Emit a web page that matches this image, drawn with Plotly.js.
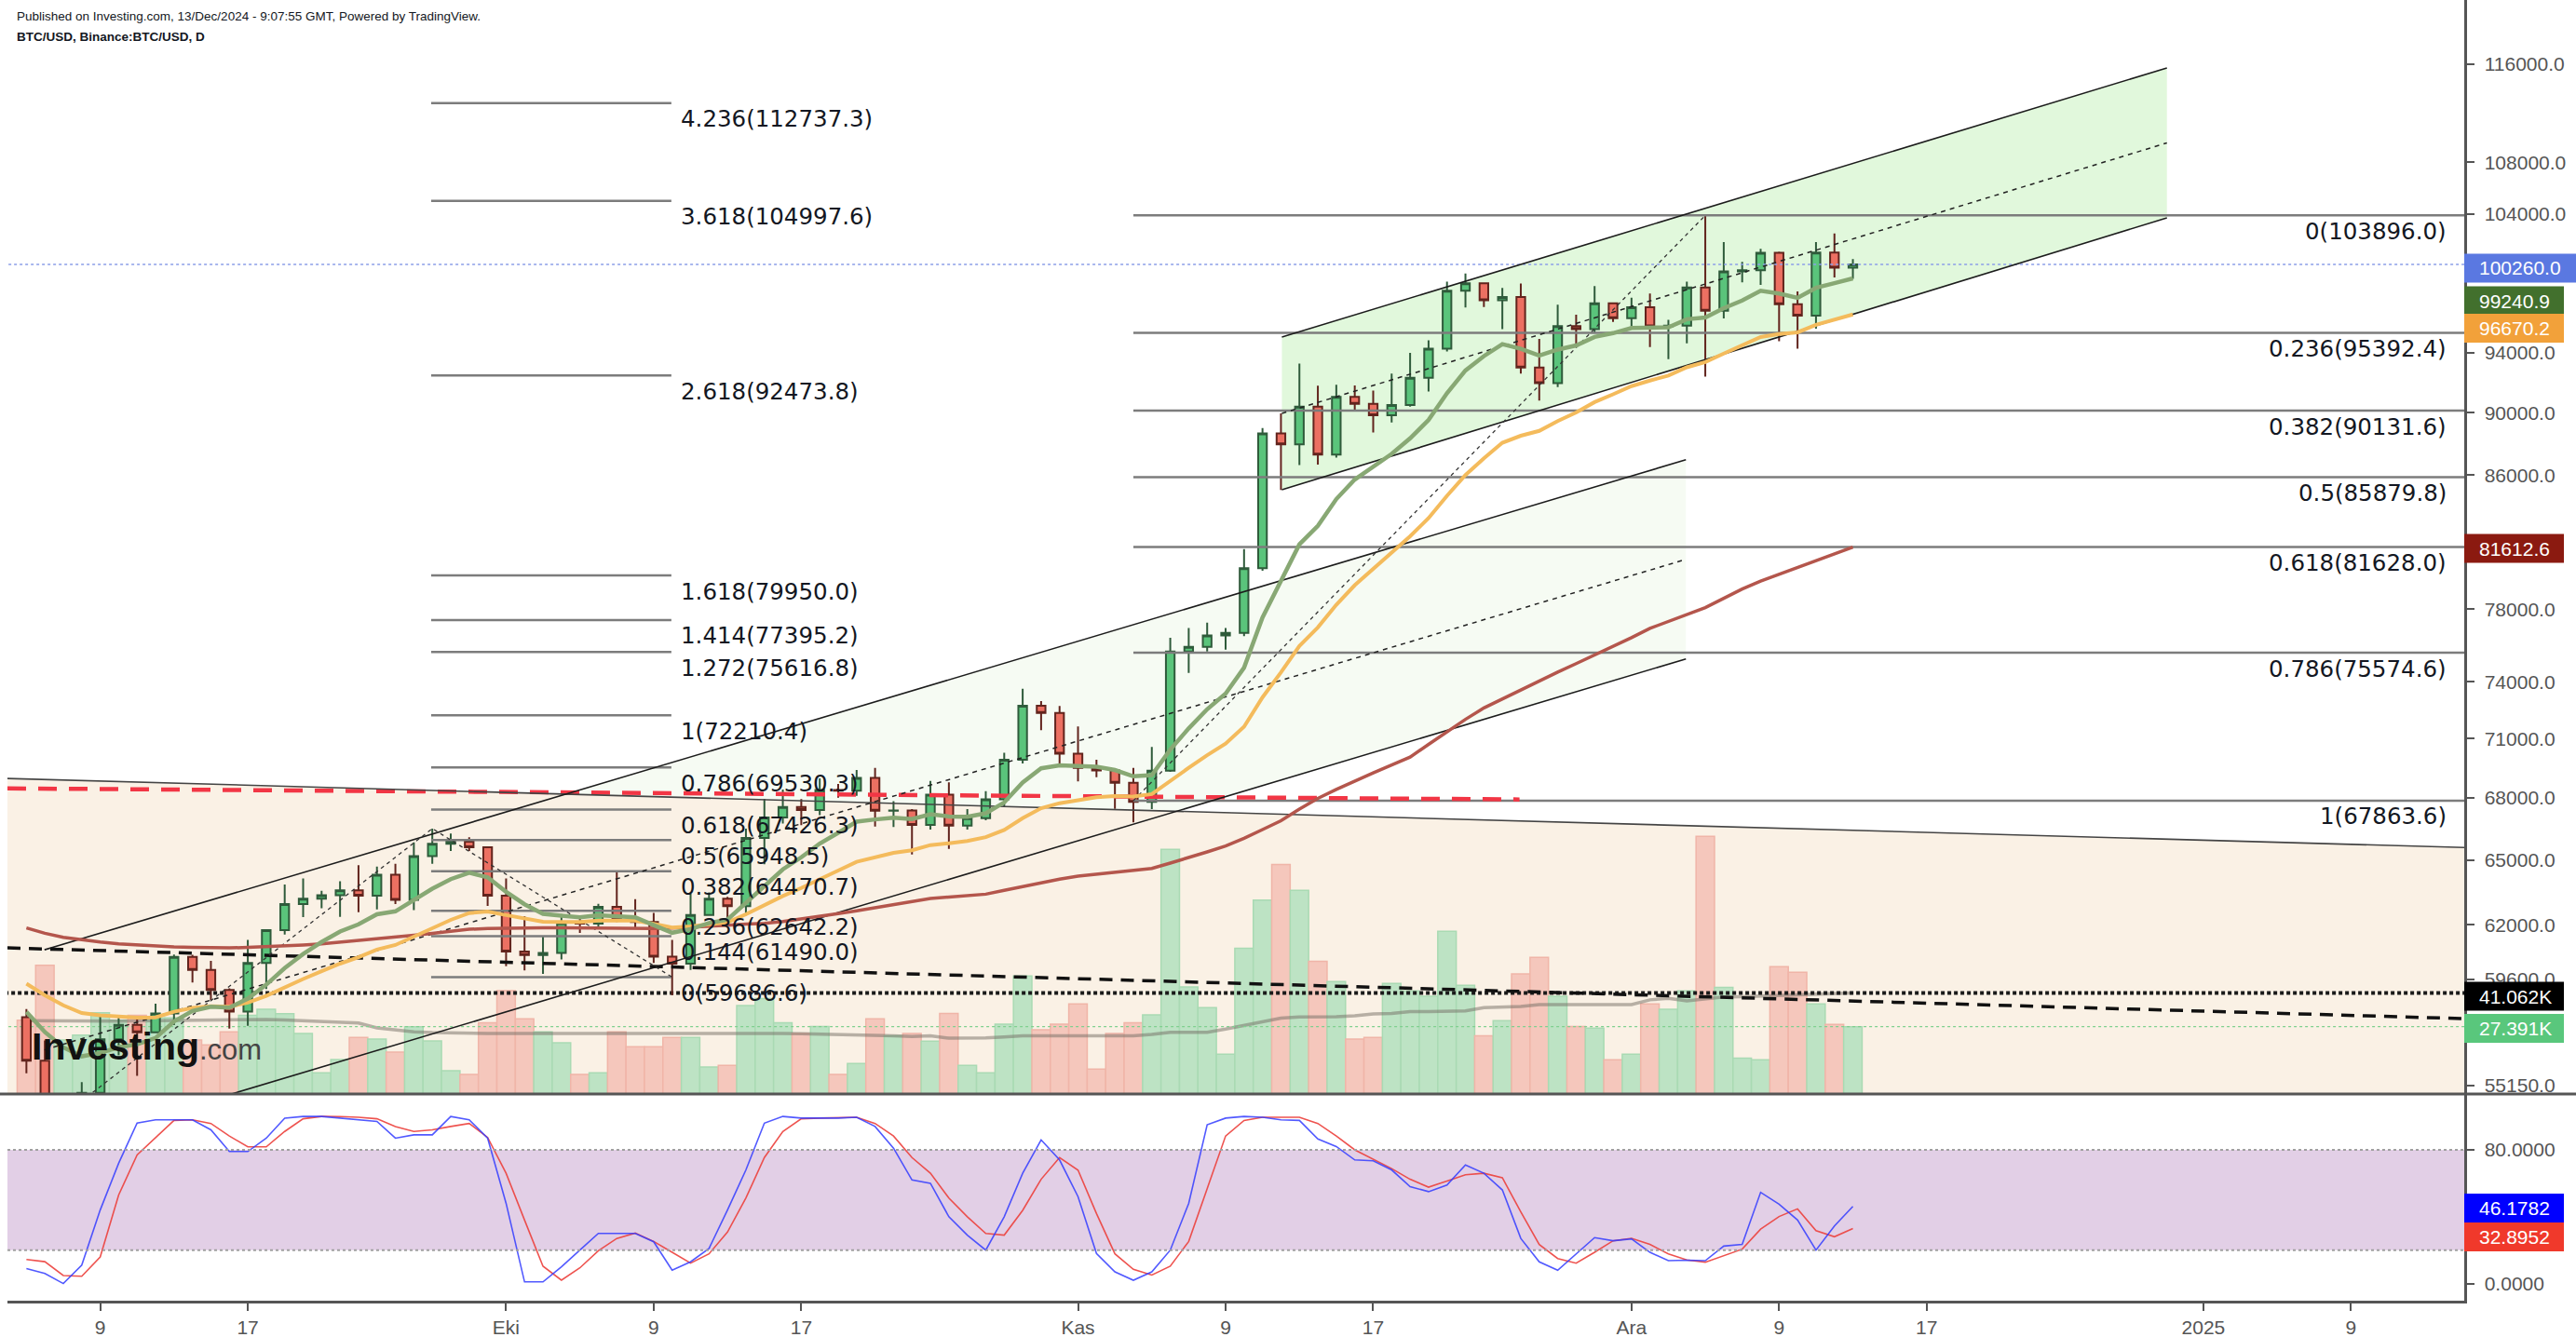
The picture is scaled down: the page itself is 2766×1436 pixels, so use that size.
<!DOCTYPE html>
<html><head><meta charset="utf-8">
<script src="https://cdn.plot.ly/plotly-3.0.1.min.js"></script>
<style>html,body{margin:0;padding:0;background:#fff;}#chart{width:2766px;height:1436px;}</style>
</head><body><div id="chart"></div>
<script>
// ---------------- DATA ----------------
const dates = [
"2024-09-05","2024-09-06","2024-09-07","2024-09-08","2024-09-09","2024-09-10","2024-09-11","2024-09-12","2024-09-13","2024-09-14",
"2024-09-15","2024-09-16","2024-09-17","2024-09-18","2024-09-19","2024-09-20","2024-09-21","2024-09-22","2024-09-23","2024-09-24",
"2024-09-25","2024-09-26","2024-09-27","2024-09-28","2024-09-29","2024-09-30",
"2024-10-01","2024-10-02","2024-10-03","2024-10-04","2024-10-05","2024-10-06","2024-10-07","2024-10-08","2024-10-09","2024-10-10",
"2024-10-11","2024-10-12","2024-10-13","2024-10-14","2024-10-15","2024-10-16","2024-10-17","2024-10-18","2024-10-19","2024-10-20",
"2024-10-21","2024-10-22","2024-10-23","2024-10-24","2024-10-25","2024-10-26","2024-10-27","2024-10-28","2024-10-29","2024-10-30","2024-10-31",
"2024-11-01","2024-11-02","2024-11-03","2024-11-04","2024-11-05","2024-11-06","2024-11-07","2024-11-08","2024-11-09","2024-11-10",
"2024-11-11","2024-11-12","2024-11-13","2024-11-14","2024-11-15","2024-11-16","2024-11-17","2024-11-18","2024-11-19","2024-11-20",
"2024-11-21","2024-11-22","2024-11-23","2024-11-24","2024-11-25","2024-11-26","2024-11-27","2024-11-28","2024-11-29","2024-11-30",
"2024-12-01","2024-12-02","2024-12-03","2024-12-04","2024-12-05","2024-12-06","2024-12-07","2024-12-08","2024-12-09","2024-12-10",
"2024-12-11","2024-12-12","2024-12-13"];

const open = [
57970,56160,53950,54160,54870,57050,57650,57340,58130,60570,60000,59130,58210,60310,61760,62950,63190,63350,63580,63330,64300,63140,65180,65770,65870,65600,
63330,60810,60650,60750,62080,62060,62820,62220,62130,60580,60270,62450,63190,62850,66050,67040,67550,67400,68390,68360,69000,67370,67380,66680,68160,66640,67010,67930,69910,72720,72340,
70220,69500,69370,68750,67800,69360,75640,75900,76540,76680,80370,88650,87950,90400,87300,91050,90580,89840,90510,92310,94290,98350,98890,97670,97900,93010,91960,95860,95640,97460,
96410,97180,95840,95880,98580,96930,99740,99830,101110,97400,96590,101120,100010];
const high = [
58320,56995,54850,55300,58090,58040,57990,58540,60670,60660,60400,59200,61320,61790,63850,64130,63560,64000,64750,64690,64820,65840,66500,66260,66080,65620,
64130,62390,61490,62490,62370,62960,64480,63170,62540,61320,63420,63480,63280,66500,67950,68420,67940,68970,68690,69400,69500,67840,67450,68850,68780,67450,68330,70270,73620,72960,72700,
71630,69920,69400,69500,70570,76400,76950,77250,76950,81500,89000,89960,93270,91790,91850,91800,91460,92600,94000,94870,99000,99600,98890,98560,98870,94970,97360,96650,98690,97460,
97850,98150,96300,99000,103896,101900,100440,101400,101200,98300,101900,102540,100650];
const low = [
55650,52550,53740,53650,54590,56390,55550,57320,57640,59450,58700,57490,57610,59170,61560,62350,62750,62360,62570,62700,62950,62670,64820,65420,65420,62860,
60160,59980,59830,60460,61640,61830,62130,61840,60300,58900,60000,62420,62050,62420,64800,66750,66670,67150,68010,68100,66600,66570,65260,66450,65520,66450,66900,67540,69730,71440,69690,
68820,69030,67460,66800,67450,69300,74470,75640,75750,76490,80220,85080,86630,86670,87100,90090,88720,89370,90400,91400,94100,97170,97200,95650,92600,90790,91700,94650,95350,96150,
95770,94400,93580,94660,92400,96400,98950,98770,94800,94300,95680,99310,99200];
const close = [
56160,53950,54160,54870,57050,57650,57340,58130,60570,60000,59130,58210,60310,61760,62950,63190,63350,63580,63330,64300,63140,65180,65770,65870,65600,63330,
60810,60650,60750,62080,62060,62820,62220,62130,60580,60270,62450,63190,62850,66050,67040,67550,67400,68390,68360,69000,67370,67380,66680,68160,66640,67010,67930,69910,72720,72340,70220,
69500,69370,68750,67800,69360,75640,75900,76540,76680,80370,88650,87950,90400,87300,91050,90580,89840,90510,92310,94290,98350,98890,97670,97900,93010,91960,95860,95640,97460,96410,
97180,95840,95880,98580,96930,99740,99830,101110,97400,96590,101120,100010,100260];

// volume in thousands (K)
const volumeK = [
30,52.4,22,24,33,30,32,31,31,22,20,25.3,32,34.5,32.7,24.6,8.6,14,23,22.3,17,27.4,21.6,9.5,8,29,
42,30.6,25.3,20.8,8,8.6,25.3,19.2,19.2,23,23,11,11.6,36,38.8,29,24.6,27.5,8,12.4,30.6,23.7,24.6,21.5,32.8,11.6,8.6,28.4,48,26.1,28.4,
36.6,10.1,24.6,29,32.2,99.5,43.6,35.1,16.2,59.3,78.9,93.4,82.8,54,45.7,22.3,23,45,41.9,39.8,66.2,44.2,23.7,29.8,48.9,55.6,39.8,27.5,26.8,13.9,
16.2,36.6,34.5,41.9,104.8,43.4,14.6,13.9,51.8,49.5,36.6,28.3,27.391];
const volumeMA_K = [
29.8,29.7,29.7,29.6,29.6,29.6,29.7,29.8,29.9,30.0,
30.1,30.2,30.3,30.3,30.1,29.8,29.4,29.0,
28.9,26.9,26.0,25.3,
25.0,24.8,24.7,24.6,24.6,24.6,24.6,24.6,24.6,24.6,24.6,24.6,24.6,24.7,24.8,24.9,24.8,24.7,24.6,24.6,24.5,24.4,24.3,24.2,24.0,23.7,23.4,
23.7,22.7,22.7,22.8,
23.2,23.7,23.7,23.7,23.7,23.7,23.7,23.7,
24.2,25.1,25.1,25.1,26.4,27.9,29.4,30.9,31.3,31.3,31.4,31.8,32.6,32.8,33.5,33.5,33.6,33.8,35.1,35.3,35.6,
36.4,36.4,36.4,36.4,36.4,36.4,38.3,38.9,37.9,38.8,
39.5,39.6,39.8,40.0,40.3,40.6,40.8,41.062];

const ema9 = [
58200,57350,56712,56344,56485,56718,56842,57100,57794,58235,58414,58373,58760,59360,60078,60700,61230,61700,62026,62481,
62613,63126,63655,64098,64398,64184,63509,62937,62500,62416,62345,62440,62396,62343,61990,61646,61807,62084,62237,63000,
63808,64556,65125,65778,66294,66835,66942,67030,66960,67200,67088,67072,67244,67777,68766,69481,69629,69603,69556,69395,
69076,69133,70434,71527,72530,73360,74762,77540,79622,81778,82882,84516,85729,86551,87343,88336,89527,91292,92812,93784,
94607,94288,93822,94230,94512,95102,95364,95727,95750,95776,96337,96456,97113,97656,98347,98158,97844,98560,98900,99240.9];
const ema21 = [
59400,58905,58474,58146,58046,58010,57949,57965,58202,58365,58435,58415,58587,58875,59245,59604,59945,60275,60553,60894,
61098,61469,61860,62225,62532,62605,62442,62279,62140,62135,62128,62191,62194,62188,62042,61881,61933,62047,62120,62477,
62892,63315,63686,64114,64500,64909,65133,65337,65459,65705,65790,65901,66085,66433,67005,67490,67738,67898,68032,68097,
68070,68187,68864,69504,70144,70738,71614,73163,74507,75952,76984,78263,79383,80334,81259,82264,83357,84720,86008,87068,
88053,88504,88818,89458,90020,90696,91215,91757,92128,92469,93025,93380,93958,94492,95094,95304,95421,95939,96309,96670.2];
const maLong = [
61860,61620,61440,61330,61230,61150,61100,61050,61010,60990,60975,60970,60990,61020,61060,61100,61150,61220,61300,61380,
61450,61530,61620,61710,61800,61840,61860,61870,61870,61870,61860,61850,61840,61840,61840,61860,61890,61930,61980,62030,
62070,62150,62260,62380,62510,62640,62780,62920,63060,63200,63270,63340,63400,63580,63760,63940,64100,64240,64330,64420,
64510,64600,64850,65100,65380,65660,66030,66450,66880,67450,67980,68420,68850,69250,69650,70050,70700,71350,72000,72600,
73080,73560,74060,74520,74980,75440,75900,76410,76930,77330,77720,78100,78630,79160,79620,80020,80420,80820,81220,81612.6];

const stochK = [
9,6,0,11,44,72,96,98,98,98, 92,79,79,87,99,100,100,99,98,97, 87,89,89,100,98,87,48,1,1,10,
20,30,30,30,25,8,13,21,44,68, 96,100,99,99,99,99.5,94,81,62,60, 40,29,20,40,66,86,74,52,18,7,
2,7,20,48,95,99,100,99.5,98,97.6, 86.5,82,74,73.5,68,58,55,59,71,66, 56,27,13,8,18,27.5,25.6,26.7,18.7,13.7,
14,13.7,22.4,23.4,54.6,47.5,38,20,34.5,46.1782];
const stochD = [
14.4,13.1,4.8,4.4,15.9,53,77,87.4,97.6,98, 95.8,88.3,81.8,81.8,91,98.6,100,99.9,99.5,98.6, 93.9,91,92,94,95.8,87.4,66,38,10.4,2,
9.4,19.6,27,30.2,25.2,18.7,12.2,17.8,30.8,51.2, 75.4,91,98.6,99,99.1,99.5,95.8,88.3,75.4,66, 51.2,40,30,29,43.8,62.4,75.4,67.9,41.9,17.8,
8.5,5.1,10.4,25.2,56.8,88.3,97.6,99.5,99.5,99.5, 95.8,88.3,80,74.4,68.8,62.4,57.7,61.4,65.1,66, 63.3,42.9,23.4,15,12.2,18.7,25.6,27.1,23.4,17.8,
14.1,12.8,16.9,20.6,32.6,40.1,44.7,31.7,28,32.8952];

const priceTicks = [55150,59600,62000,65000,68000,71000,74000,78000,86000,90000,94000,104000,108000,116000];
const priceTickText = ["55150.0","59600.0","62000.0","65000.0","68000.0","71000.0","74000.0","78000.0","86000.0","90000.0","94000.0","104000.0","108000.0","116000.0"];
const timeTicks = ["2024-09-09","2024-09-17","2024-10-01","2024-10-09","2024-10-17","2024-11-01","2024-11-09","2024-11-17","2024-12-01","2024-12-09","2024-12-17","2025-01-01","2025-01-09"];
const timeTickText = ["9","17","Eki","9","17","Kas","9","17","Ara","9","17","2025","9"];
const stochTicks = [0,80];
const stochTickText = ["0.0000","80.0000"];

const fibRightRatios = ["0","0.236","0.382","0.5","0.618","0.786","1"];
const fibRightLevels = [103896.0,95392.4,90131.6,85879.8,81628.0,75574.6,67863.6];
const fibLeftRatios = ["4.236","3.618","2.618","1.618","1.414","1.272","1","0.786","0.618","0.5","0.382","0.236","0.144","0"];
const fibLeftLevels = [112737.3,104997.6,92473.8,79950.0,77395.2,75616.8,72210.4,69530.3,67426.3,65948.5,64470.7,62642.2,61490.0,59686.6];
const fibLeftSpan = ["2024-09-26 22:30","2024-10-09 23:00"];
const fibRightSpan = ["2024-11-04","2025-01-20"];
const fibLeftPathX = ["2024-09-07","2024-09-27","2024-10-10"];
const fibLeftPathY = [53976,66500,59686.6];
const fibRightPathX = ["2024-11-04","2024-12-05"];
const fibRightPathY = [67863.6,103896.0];

const descX = ["2024-09-03 23:20","2025-01-15 03:18"];
const descTop = [68970,65590];
const descMid = [60970,57910];
const chanAX = ["2024-09-05 23:30","2024-12-03 22:48"];
const chanATop = [60885,86971];
const chanAMid = [56609,80891];
const chanABot = [52633,75239];
const chanBX = ["2024-11-12 01:12","2024-12-30 00:30"];
const chanBTop = [95093,115662];
const chanBMid = [89955,109523];
const chanBBot = [85094,103709];
const redLevelX = ["2024-09-03 23:20","2024-11-24 22:20"];
const redLevelY = [68474,67924];
const fullSpanX = ["2024-09-01","2025-01-20"];

const lastPrice = 100260.0;
const lastVolK = 27.391;
const lastVolMAK = 41.062;
const sideLabels = ["100260.0","99240.9","96670.2","81612.6","41.062K","27.391K","46.1782","32.8952"];

// ---------------- LAYOUT HELPERS ----------------
const W = 2766, H = 1436, ML = 8, MR = 120, MT = 0, MB = 39;
const PW = W - ML - MR, PH = H - MT - MB;
const py = p => (PH - (p - MT)) / PH;
const px = p => (p - ML) / PW;
const split = py(1175);
const logRange = [4.73894, 5.08467];
const xRange = ["2024-09-03 23:20", "2025-01-15 03:18"];
const tickFont = {family: "Liberation Sans, Arial, sans-serif", size: 21, color: "#555"};
const fibFont = {family: "DejaVu Sans, Verdana, sans-serif", size: 24.5, color: "#131722"};

const traces = [];
// fills (base price axis)
traces.push({type:"scatter", mode:"lines", x:[chanAX[0],chanAX[1],chanAX[1],chanAX[0]], y:[chanATop[0],chanATop[1],chanABot[1],chanABot[0]],
  fill:"toself", fillcolor:"#f6fbf3", line:{width:0}, xaxis:"x", yaxis:"y", hoverinfo:"skip"});
traces.push({type:"scatter", mode:"lines", x:[descX[0],descX[1],descX[1],descX[0]], y:[descTop[0],descTop[1],40000,40000],
  fill:"toself", fillcolor:"#faf1e5", line:{width:0}, xaxis:"x", yaxis:"y", hoverinfo:"skip"});
traces.push({type:"scatter", mode:"lines", x:[chanBX[0],chanBX[1],chanBX[1],chanBX[0]], y:[chanBTop[0],chanBTop[1],chanBBot[1],chanBBot[0]],
  fill:"toself", fillcolor:"#e1f8dc", line:{width:0}, xaxis:"x", yaxis:"y", hoverinfo:"skip"});

// volume (overlay axis y3)
const volColors = close.map((c,i) => c >= open[i] ? "#bde3c4" : "#f5c7bc");
const volLine = close.map((c,i) => c >= open[i] ? "#a9dab3" : "#f0b5a8");
traces.push({type:"bar", x:dates, y:volumeK, width:86400000, marker:{color:volColors, line:{color:volLine, width:1.5}}, xaxis:"x", yaxis:"y3", hoverinfo:"skip"});
traces.push({type:"scatter", mode:"lines", x:dates, y:volumeMA_K, line:{color:"rgba(115,110,100,0.5)", width:3.5}, xaxis:"x", yaxis:"y3"});
traces.push({type:"scatter", mode:"lines", x:fullSpanX, y:[lastVolMAK,lastVolMAK], line:{color:"#1a1a1a", width:4, dash:"4px,3px"}, xaxis:"x", yaxis:"y3"});
traces.push({type:"scatter", mode:"lines", x:fullSpanX, y:[lastVolK,lastVolK], line:{color:"#7fd08f", width:1.2, dash:"dot"}, xaxis:"x", yaxis:"y3"});

// drawings on overlay price axis y4
const P = {xaxis:"x", yaxis:"y4", hoverinfo:"skip", mode:"lines", type:"scatter"};
traces.push(Object.assign({}, P, {x:fullSpanX, y:[lastPrice,lastPrice], line:{color:"#8c9ee8", width:1.5, dash:"dot"}}));
// fib right lines
let fx=[], fy=[];
fibRightLevels.forEach(l => { fx.push(fibRightSpan[0], fibRightSpan[1], null); fy.push(l, l, null); });
traces.push(Object.assign({}, P, {x:fx, y:fy, line:{color:"#7c7c7c", width:2.5}, connectgaps:false}));
fx=[]; fy=[];
fibLeftLevels.forEach(l => { fx.push(fibLeftSpan[0], fibLeftSpan[1], null); fy.push(l, l, null); });
traces.push(Object.assign({}, P, {x:fx, y:fy, line:{color:"#7c7c7c", width:2.5}, connectgaps:false}));
// red dashed level
traces.push(Object.assign({}, P, {x:redLevelX, y:redLevelY, line:{color:"#f23645", width:4.5, dash:"20px,13px"}}));
// channel solid lines
const solid = {color:"#1c1c1c", width:1.6};
traces.push(Object.assign({}, P, {x:descX, y:descTop, line:Object.assign({}, solid, {color:"#444"})}));
traces.push(Object.assign({}, P, {x:chanAX, y:chanATop, line:solid}));
traces.push(Object.assign({}, P, {x:chanAX, y:chanABot, line:solid}));
traces.push(Object.assign({}, P, {x:chanBX, y:chanBTop, line:solid}));
traces.push(Object.assign({}, P, {x:chanBX, y:chanBBot, line:solid}));
// dashed lines
traces.push(Object.assign({}, P, {x:descX, y:descMid, line:{color:"#111", width:3.5, dash:"14px,9px"}}));
traces.push(Object.assign({}, P, {x:chanAX, y:chanAMid, line:{color:"#222", width:1.5, dash:"5px,5px"}}));
traces.push(Object.assign({}, P, {x:chanBX, y:chanBMid, line:{color:"#222", width:1.5, dash:"5px,5px"}}));
traces.push(Object.assign({}, P, {x:fibLeftPathX, y:fibLeftPathY, line:{color:"#333", width:1.3, dash:"4px,4px"}}));
traces.push(Object.assign({}, P, {x:fibRightPathX, y:fibRightPathY, line:{color:"#333", width:1.3, dash:"4px,4px"}}));
// moving averages
traces.push(Object.assign({}, P, {x:dates, y:maLong, line:{color:"#b4564c", width:3.5}}));
traces.push(Object.assign({}, P, {x:dates, y:ema21, line:{color:"#f4bb5c", width:4}}));
traces.push(Object.assign({}, P, {x:dates, y:ema9, line:{color:"#88a874", width:4.5}}));
// candles
traces.push({type:"candlestick", x:dates, open:open, high:high, low:low, close:close, xaxis:"x", yaxis:"y4",
  increasing:{fillcolor:"#5ac47b", line:{color:"#2f5b3b", width:2}},
  decreasing:{fillcolor:"#ec7062", line:{color:"#62241d", width:2}},
  whiskerwidth:0, hoverinfo:"skip"});
// stochastic
traces.push({type:"scatter", mode:"lines", x:dates, y:stochD, line:{color:"rgba(236,64,60,0.9)", width:1.6}, xaxis:"x", yaxis:"y2"});
traces.push({type:"scatter", mode:"lines", x:dates, y:stochK, line:{color:"rgba(50,60,255,0.85)", width:1.6}, xaxis:"x", yaxis:"y2"});

// ---------------- SHAPES / ANNOTATIONS ----------------
const shapes = [
  {type:"rect", xref:"paper", yref:"y2", x0:0, x1:1, y0:20, y1:80, fillcolor:"#e2cfe6", line:{width:0}, layer:"below"},
  {type:"line", xref:"paper", yref:"y2", x0:0, x1:1, y0:80, y1:80, line:{color:"#a0a0a0", width:2, dash:"dot"}},
  {type:"line", xref:"paper", yref:"y2", x0:0, x1:1, y0:20, y1:20, line:{color:"#a0a0a0", width:2, dash:"dot"}},
  {type:"line", xref:"paper", yref:"paper", x0:px(0), x1:px(W), y0:split, y1:split, line:{color:"#555", width:3}}
];
const boxSpec = [
  {c:288, col:"#5a78e1", r:W},
  {c:323, col:"#42702d", r:2753},
  {c:352.5, col:"#f2a13a", r:2753},
  {c:589, col:"#8b1a10", r:2753},
  {c:1070, col:"#000000", r:2753},
  {c:1104.5, col:"#59c77c", r:2753},
  {c:1297.5, col:"#0000ff", r:2753},
  {c:1328.6, col:"#f0392b", r:2753}
];
const annotations = [];
boxSpec.forEach((b,i) => {
  shapes.push({type:"rect", xref:"paper", yref:"paper", x0:px(2646), x1:px(b.r), y0:py(b.c+15.5), y1:py(b.c-15.5), fillcolor:b.col, line:{width:0}});
  annotations.push({xref:"paper", yref:"paper", x:px(2646), y:py(b.c), xanchor:"left", yanchor:"middle", xshift:14, showarrow:false,
    text:sideLabels[i], font:{family:"Liberation Sans, Arial, sans-serif", size:21, color:"#ffffff"}});
});
fibRightLevels.forEach((l,i) => {
  annotations.push({xref:"paper", yref:"y", x:1, y:Math.log10(l), xanchor:"right", yanchor:"middle", xshift:-17, yshift:-17, showarrow:false,
    text:fibRightRatios[i] + "(" + l.toFixed(1) + ")", font:fibFont});
});
fibLeftLevels.forEach((l,i) => {
  annotations.push({xref:"x", yref:"y", x:fibLeftSpan[1], y:Math.log10(l), xanchor:"left", yanchor:"middle", xshift:8, yshift:-17, showarrow:false,
    text:fibLeftRatios[i] + "(" + l.toFixed(1) + ")", font:fibFont});
});
annotations.push({xref:"paper", yref:"paper", x:px(16), y:py(18), xanchor:"left", yanchor:"middle", showarrow:false,
  text:"Published on Investing.com, 13/Dec/2024 - 9:07:55 GMT, Powered by TradingView.", font:{family:"Liberation Sans, Arial, sans-serif", size:13.5, color:"#131722"}});
annotations.push({xref:"paper", yref:"paper", x:px(16), y:py(40), xanchor:"left", yanchor:"middle", showarrow:false,
  text:"<b>BTC/USD, Binance:BTC/USD, D</b>", font:{family:"Liberation Sans, Arial, sans-serif", size:13.5, color:"#131722"}});
annotations.push({xref:"paper", yref:"paper", x:px(32), y:py(1124), xanchor:"left", yanchor:"middle", showarrow:false,
  text:"<b>Investing</b><span style=\"font-size:31px;color:#444;font-weight:normal\">.com</span>",
  font:{family:"Liberation Sans, Arial, sans-serif", size:41, color:"#111"}});

const axisCommon = {showgrid:false, zeroline:false, fixedrange:true};
const layout = {
  width:W, height:H, margin:{l:ML, r:MR, t:MT, b:MB, pad:0},
  paper_bgcolor:"#ffffff", plot_bgcolor:"#ffffff", showlegend:false, hovermode:false,
  bargap:0, boxgap:0.33,
  xaxis:Object.assign({}, axisCommon, {type:"date", range:xRange, anchor:"y2", rangeslider:{visible:false},
    tickmode:"array", tickvals:timeTicks, ticktext:timeTickText, ticks:"outside", ticklen:8, tickwidth:2, tickcolor:"#555",
    tickfont:tickFont, showline:true, linecolor:"#555", linewidth:3}),
  yaxis:Object.assign({}, axisCommon, {domain:[split,1], type:"log", range:logRange, side:"right", anchor:"x",
    tickmode:"array", tickvals:priceTicks, ticktext:priceTickText, ticks:"outside", ticklen:8, tickwidth:2, tickcolor:"#555",
    tickfont:tickFont, showline:true, linecolor:"#555", linewidth:2.5, ticklabelstandoff:7}),
  yaxis2:Object.assign({}, axisCommon, {domain:[0,split], range:[-10.25,113.43], side:"right", anchor:"x",
    tickmode:"array", tickvals:stochTicks, ticktext:stochTickText, ticks:"outside", ticklen:8, tickwidth:2, tickcolor:"#555",
    tickfont:tickFont, showline:true, linecolor:"#555", linewidth:2.5, ticklabelstandoff:7}),
  yaxis3:Object.assign({}, axisCommon, {overlaying:"y", range:[0,445], visible:false, anchor:"x"}),
  yaxis4:Object.assign({}, axisCommon, {overlaying:"y", type:"log", range:logRange, visible:false, anchor:"x"}),
  shapes:shapes, annotations:annotations
};
Plotly.newPlot("chart", traces, layout, {staticPlot:true, displayModeBar:false});
</script>
</body></html>
